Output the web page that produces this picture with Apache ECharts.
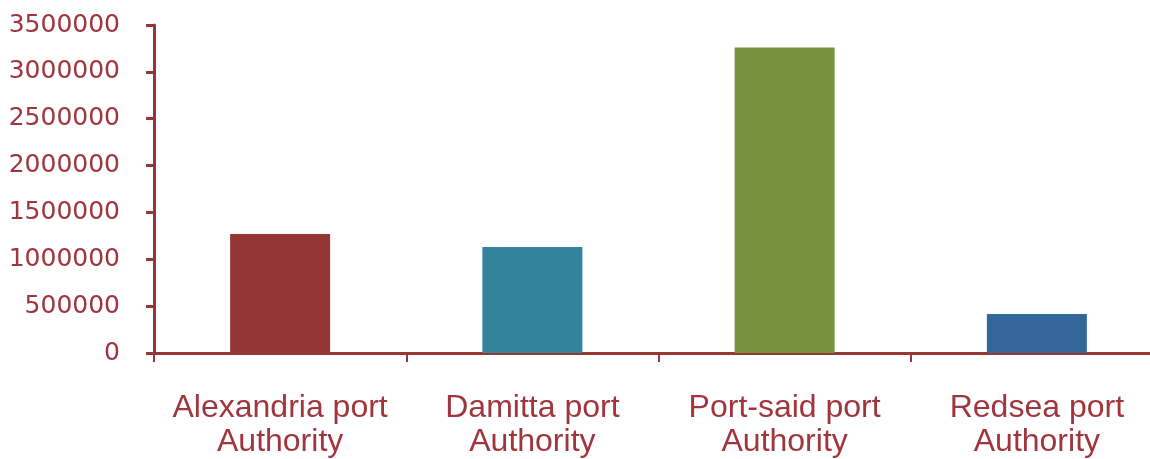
<!DOCTYPE html>
<html><head><meta charset="utf-8">
<script src="https://cdn.jsdelivr.net/npm/echarts@6/dist/echarts.min.js"></script>
<style>html,body{margin:0;padding:0;background:#fff;overflow:hidden}#c{width:1180px;height:459px}</style>
</head><body><div id="c"></div>
<script>
var categories = ['Alexandria port\nAuthority', 'Damitta port\nAuthority', 'Port-said port\nAuthority', 'Redsea port\nAuthority'];
var values = [1270000, 1130000, 3260000, 415000];
var barColors = ['#943634', '#31849B', '#76923C', '#336699'];
var yTicks = [0, 500000, 1000000, 1500000, 2000000, 2500000, 3000000, 3500000];

var chart = echarts.init(document.getElementById('c'));
chart.setOption({
  animation: false,
  grid: {left: 154, top: 25, width: 1009, height: 328, containLabel: false},
  xAxis: {
    type: 'category', data: categories,
    axisLine: {lineStyle: {color: '#953735', width: 3}},
    axisTick: {show: true, interval: 0, length: 9, lineStyle: {color: '#953735', width: 2}},
    axisLabel: {interval: 0, color: '#A0353D', fontFamily: 'Liberation Sans, Arial', fontSize: 32, lineHeight: 34, margin: 38}
  },
  yAxis: {
    type: 'value', min: yTicks[0], max: yTicks[yTicks.length - 1], interval: 500000,
    splitLine: {show: false},
    axisLine: {show: true, lineStyle: {color: '#953735', width: 3}},
    axisTick: {show: true, length: 8, lineStyle: {color: '#953735', width: 3}},
    axisLabel: {color: '#A0353D', fontFamily: 'DejaVu Sans', fontSize: 25, margin: 34,
      formatter: function (v) { return String(v); }}
  },
  series: [{
    type: 'bar', barWidth: 100,
    data: values.map(function (v, i) { return {value: v, itemStyle: {color: barColors[i]}}; })
  }]
});
</script></body></html>
